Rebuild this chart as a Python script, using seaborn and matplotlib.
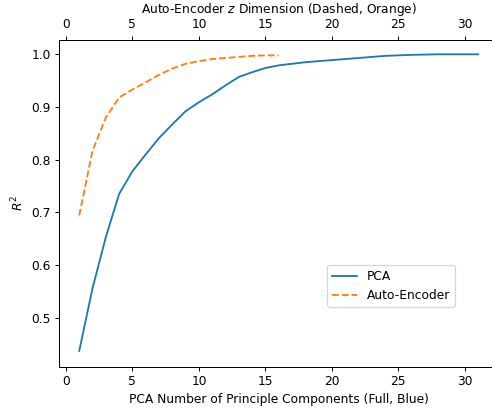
import numpy as np
import pandas as pd
import matplotlib
matplotlib.use("Agg")
import matplotlib.pyplot as plt
import seaborn as sns

# R^2
pca_components = list(range(1, 32))
pca_r2 = [0.437, 0.556, 0.653, 0.735, 0.778, 0.810, 0.841, 0.867, 0.892, 0.909,
          0.924, 0.941, 0.957, 0.966, 0.974, 0.979, 0.982, 0.985, 0.987, 0.989,
          0.991, 0.993, 0.995, 0.997, 0.998, 0.999, 0.9995, 1.0, 1.0, 1.0, 1.0]

ae_dims = list(range(1, 17))
ae_r2 = [0.694, 0.817, 0.880, 0.918, 0.933, 0.947, 0.961, 0.973, 0.982, 0.987,
         0.991, 0.993, 0.995, 0.997, 0.998, 0.998]

x_ticks = [0, 5, 10, 15, 20, 25, 30]

DPI = 88.5
fig = plt.figure(figsize=(492 / DPI, 412 / DPI), dpi=DPI)
ax = fig.add_axes([0.1205, 0.110, 0.892, 0.794])

sns.lineplot(x=pca_components, y=pca_r2, ax=ax, color="C0", label="PCA", legend=False)
ax.set_xlim(-0.5, 32.5)
ax.set_xticks(x_ticks)
ax.set_xlabel("PCA Number of Principle Components (Full, Blue)")
ax.set_ylabel("$R^2$")

ax2 = ax.twiny()
sns.lineplot(x=ae_dims, y=ae_r2, ax=ax2, color="C1", linestyle="--",
             label="Auto-Encoder", legend=False)
ax2.set_xlim(-0.5, 32.5)
ax2.set_xticks(x_ticks)
ax2.set_xlabel("Auto-Encoder $z$ Dimension (Dashed, Orange)")
ax.set_ylim(0.407, 1.028)

for a in (ax, ax2):
    a.spines["right"].set_visible(False)
ax.spines["top"].set_visible(False)

h1, l1 = ax.get_legend_handles_labels()
h2, l2 = ax2.get_legend_handles_labels()
ax2.legend(h1 + h2, l1 + l2, loc="center", bbox_to_anchor=(0.756, 0.247))

fig.savefig("out.png", dpi=DPI)
